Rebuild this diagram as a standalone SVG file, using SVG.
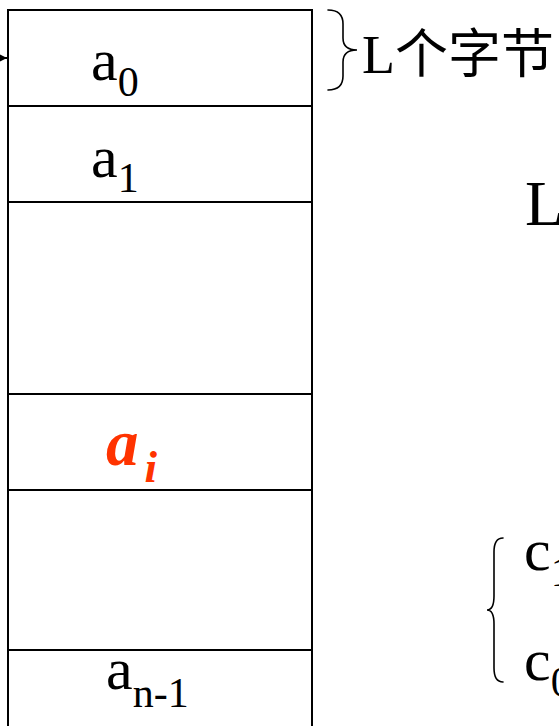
<svg xmlns="http://www.w3.org/2000/svg" width="559" height="726" viewBox="0 0 559 726">
<style>
.cell{fill:#fff;stroke:#000;stroke-width:2}
.br{fill:none;stroke:#000;stroke-width:1.6;stroke-linecap:round}
</style>
<defs>
<marker id="ah" viewBox="0 0 10 10" refX="10" refY="5" markerWidth="7" markerHeight="9" markerUnits="userSpaceOnUse" orient="auto">
<path d="M0,0 L10,5 L0,10 z" fill="#000"/>
</marker>
</defs>
<g id="connectors">
<line x1="-20" y1="58" x2="7" y2="58" stroke="#000" stroke-width="2" marker-end="url(#ah)"/>
</g>
<g font-family="Liberation Serif, Times New Roman, serif" fill="#000">
<g id="cell-a0">
<rect class="cell" x="8" y="10" width="304" height="96"/>
<text x="91" y="80" font-size="60">a<tspan font-size="42" dy="16">0</tspan></text>
</g>
<g id="cell-a1">
<rect class="cell" x="8" y="106" width="304" height="96"/>
<text x="91" y="177" font-size="60">a<tspan font-size="42" dy="15">1</tspan></text>
</g>
<g id="cell-gap1">
<rect class="cell" x="8" y="202" width="304" height="192"/>
</g>
<g id="cell-ai">
<rect class="cell" x="8" y="394" width="304" height="96"/>
<text x="106" y="465" font-size="65" fill="#FF3300" font-weight="bold" font-style="italic">a<tspan font-size="45" dx="6" dy="17">i</tspan></text>
</g>
<g id="cell-gap2">
<rect class="cell" x="8" y="490" width="304" height="160"/>
</g>
<g id="cell-an1">
<rect class="cell" x="8" y="650" width="304" height="90"/>
<text x="106" y="689" font-size="60">a<tspan font-size="42" dy="18">n-1</tspan></text>
</g>
<g id="label-bytes">
<path class="br" d="M328,10 Q343,10 343,24 L343,38 Q343,50 357,50 Q343,50 343,62 L343,76 Q343,90 328,90"/>
<text x="362" y="73" font-size="54">L<tspan font-family="Noto Sans CJK SC, sans-serif" font-size="53">个字节</tspan></text>
</g>
<g id="label-L">
<text x="525" y="225" font-size="64">L</text>
</g>
<g id="label-c">
<path class="br" d="M503,538 Q494,538 494,552 L494,596 Q494,610 487,610 Q494,610 494,624 L494,668 Q494,682 503,682"/>
<text x="524" y="570" font-size="60">c<tspan font-size="42" dy="16">1</tspan></text>
<text x="524" y="680" font-size="60">c<tspan font-size="42" dy="16">0</tspan></text>
</g>
</g>
</svg>
